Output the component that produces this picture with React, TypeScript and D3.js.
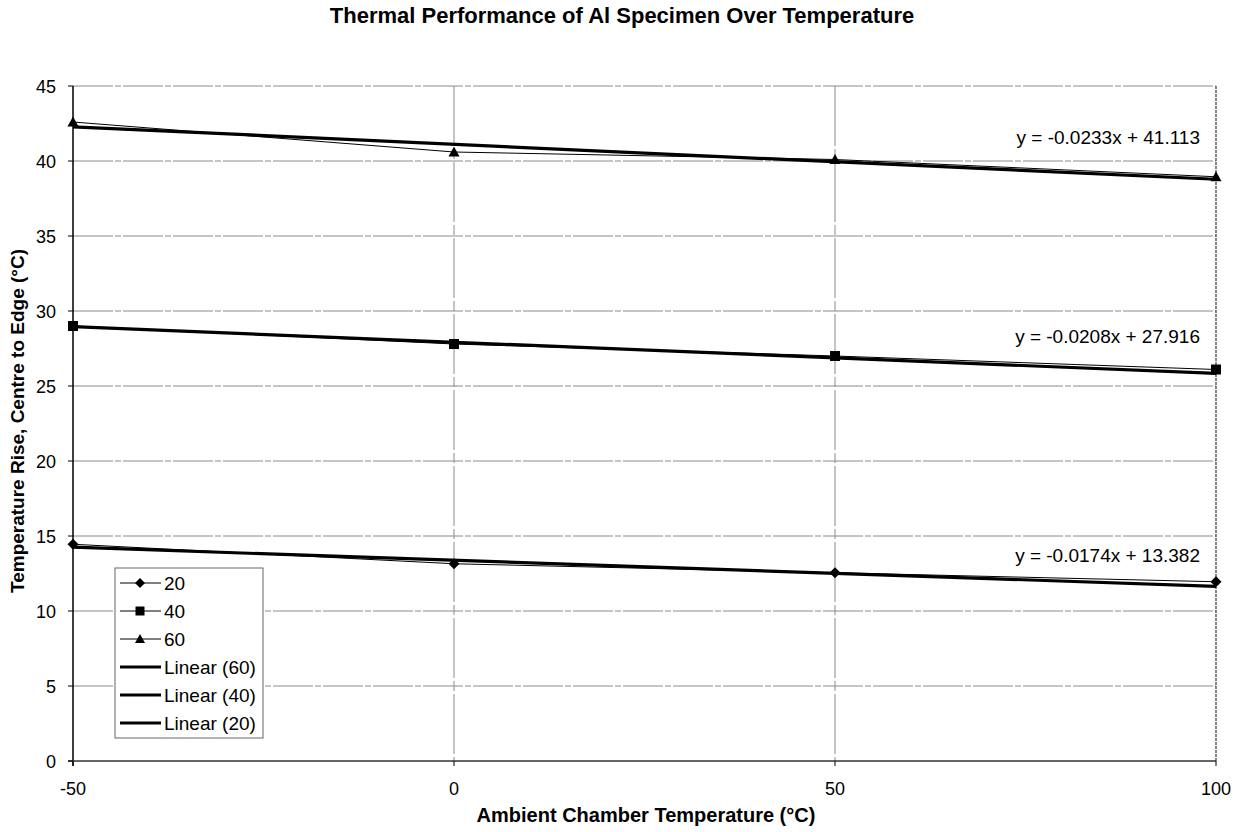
import React from "react";
import * as d3 from "d3";

// Ambient chamber temperatures (°C)
const ambient = [-50, 0, 50, 100];

// Measured centre-to-edge temperature rise for each heating level
const series20 = [14.45, 13.15, 12.55, 11.95];
const series40 = [29.0, 27.8, 27.0, 26.1];
const series60 = [42.6, 40.6, 40.1, 38.95];

// Linear trend fits [slope, intercept]
const trend20 = [-0.0174, 13.382];
const trend40 = [-0.0208, 27.916];
const trend60 = [-0.0233, 41.113];

const xTicks = [-50, 0, 50, 100];
const yTicks = [0, 5, 10, 15, 20, 25, 30, 35, 40, 45];

const W = 1236;
const H = 832;
const margin = { left: 73, right: 20, top: 86, bottom: 71 };
const FONT = "'Liberation Sans', Arial, Helvetica, sans-serif";

type Shape = "diamond" | "square" | "triangle";

function Marker({ x, y, shape, size = 5.5 }: { x: number; y: number; shape: Shape; size?: number }) {
  if (shape === "diamond") {
    const s = size;
    return <path d={`M${x},${y - s}L${x + s},${y}L${x},${y + s}L${x - s},${y}Z`} fill="#000" />;
  }
  if (shape === "square") {
    const s = size - 0.5;
    return <rect x={x - s} y={y - s} width={2 * s} height={2 * s} fill="#000" />;
  }
  const s = size;
  return <path d={`M${x},${y - s}L${x + s},${y + s * 0.8}L${x - s},${y + s * 0.8}Z`} fill="#000" />;
}

export default function App() {
  const x = d3.scaleLinear().domain([-50, 100]).range([margin.left, W - margin.right]);
  const y = d3.scaleLinear().domain([0, 45]).range([H - margin.bottom, margin.top]);

  const line = d3
    .line<[number, number]>()
    .x((d) => x(d[0]))
    .y((d) => y(d[1]));

  const dataSeries: { name: string; values: number[]; shape: Shape }[] = [
    { name: "20", values: series20, shape: "diamond" },
    { name: "40", values: series40, shape: "square" },
    { name: "60", values: series60, shape: "triangle" },
  ];

  const trends: { name: string; coef: number[]; labelY: number }[] = [
    { name: "Linear (60)", coef: trend60, labelY: 41.15 },
    { name: "Linear (40)", coef: trend40, labelY: 27.85 },
    { name: "Linear (20)", coef: trend20, labelY: 13.25 },
  ];

  const x0 = x.range()[0];
  const x1 = x.range()[1];
  const yBottom = y(0);
  const yTop = y(45);

  const legendX = 115;
  const legendY = 568;
  const legendRow = 28;
  const legendItems = [
    ...dataSeries.map((s) => ({ label: s.name, shape: s.shape as Shape | null, thick: false })),
    ...trends.map((t) => ({ label: t.name, shape: null as Shape | null, thick: true })),
  ];

  return (
    <svg width={W} height={H} style={{ display: "block", position: "absolute", left: 0, top: 0 }} fontFamily={FONT}>
      <rect width={W} height={H} fill="#fff" />

      {/* Title */}
      <text x={622} y={23} textAnchor="middle" fontSize={22} fontWeight="bold">
        Thermal Performance of Al Specimen Over Temperature
      </text>

      {/* Horizontal gridlines */}
      {yTicks.filter((t) => t > 0).map((t) => (
        <line key={"gy" + t} x1={x0} x2={x1} y1={y(t)} y2={y(t)} stroke="#8a8a8a" strokeWidth={1} strokeDasharray="40 2 6 2" />
      ))}
      {/* Vertical gridlines */}
      {xTicks.filter((t) => t > -50 && t < 100).map((t) => (
        <line key={"gx" + t} x1={x(t)} x2={x(t)} y1={yTop} y2={yBottom} stroke="#8a8a8a" strokeWidth={1} strokeDasharray="60 3 10 3" />
      ))}

      {/* Plot frame */}
      <line x1={x1} x2={x1} y1={yTop} y2={yBottom} stroke="#333" strokeWidth={1.2} strokeDasharray="3 1" />
      <line x1={x0} x2={x0} y1={yTop} y2={yBottom + 5} stroke="#000" strokeWidth={1.5} />
      <line x1={x0 - 5} x2={x1} y1={yBottom} y2={yBottom} stroke="#333" strokeWidth={1.5} />

      {/* Y tick marks and labels */}
      {yTicks.map((t) => (
        <g key={"ty" + t}>
          <line x1={x0 - 5} x2={x0} y1={y(t)} y2={y(t)} stroke="#000" />
          <text x={x0 - 17} y={y(t) + 6.5} textAnchor="end" fontSize={18}>
            {t}
          </text>
        </g>
      ))}
      {/* X tick marks and labels */}
      {xTicks.map((t) => (
        <g key={"tx" + t}>
          <line x1={x(t)} x2={x(t)} y1={yBottom} y2={yBottom + 5} stroke="#000" />
          <text x={x(t)} y={yBottom + 34} textAnchor="middle" fontSize={18}>
            {t}
          </text>
        </g>
      ))}

      {/* Measured series */}
      {dataSeries.map((s) => {
        const pts = ambient.map((a, i) => [a, s.values[i]] as [number, number]);
        return (
          <g key={"s" + s.name}>
            <path d={line(pts) || ""} fill="none" stroke="#000" strokeWidth={1} />
            {pts.map((p, i) => (
              <Marker key={i} x={x(p[0])} y={y(p[1])} shape={s.shape} />
            ))}
          </g>
        );
      })}

      {/* Linear trend lines and equations */}
      {trends.map((t) => {
        const [m, b] = t.coef;
        const pts = [-50, 100].map((a) => [a, m * a + b] as [number, number]);
        return (
          <g key={t.name}>
            <path d={line(pts) || ""} fill="none" stroke="#000" strokeWidth={3.2} />
            <text x={1200} y={y(t.labelY)} textAnchor="end" fontSize={19}>
              {`y = ${m}x + ${b.toFixed(3)}`}
            </text>
          </g>
        );
      })}

      {/* Legend */}
      <rect x={legendX} y={legendY} width={148} height={170} fill="#fff" stroke="#666" strokeWidth={1} />
      {legendItems.map((it, i) => {
        const cy = legendY + 15 + i * legendRow;
        return (
          <g key={"lg" + i}>
            <line x1={legendX + 5} x2={legendX + 46} y1={cy} y2={cy} stroke="#000" strokeWidth={it.thick ? 3.2 : 1} />
            {it.shape && <Marker x={legendX + 25} y={cy} shape={it.shape} size={5} />}
            <text x={legendX + 49} y={cy + 7} fontSize={19}>
              {it.label}
            </text>
          </g>
        );
      })}

      {/* Axis titles */}
      <text x={646} y={822} textAnchor="middle" fontSize={20} fontWeight="bold">
        Ambient Chamber Temperature (°C)
      </text>
      <text
        transform={`translate(24, 421) rotate(-90)`}
        textAnchor="middle"
        fontSize={19}
        fontWeight="bold"
      >
        Temperature Rise, Centre to Edge (°C)
      </text>
    </svg>
  );
}
